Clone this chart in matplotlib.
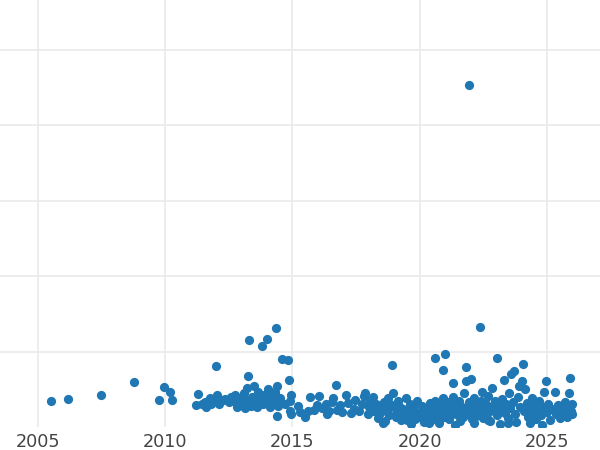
import matplotlib
matplotlib.use("Agg")
import matplotlib.pyplot as plt

years = [
    2005.51, 2006.18, 2007.48, 2008.77, 2009.75, 2009.95, 2010.19, 2010.27,
    2011.2, 2011.3, 2011.45, 2011.55, 2011.6, 2011.75, 2011.8, 2011.9, 2012.0, 2012.05,
    2012.1, 2012.25, 2012.35, 2012.5, 2012.6, 2012.7, 2012.75, 2012.8, 2012.9, 2013.0,
    2013.05, 2013.1, 2013.15, 2013.2, 2013.25, 2013.29, 2013.3, 2013.35, 2013.4, 2013.5,
    2013.55, 2013.6, 2013.65, 2013.7, 2013.8, 2013.85, 2013.9, 2014.0, 2014.0, 2014.05,
    2014.1, 2014.15, 2014.25, 2014.3, 2014.35, 2014.38, 2014.4, 2014.45, 2014.5, 2014.59,
    2014.7, 2014.82, 2014.85, 2014.9, 2014.95, 2014.9, 2014.95,
    2015.2, 2015.3, 2015.5, 2015.6, 2015.7, 2015.85, 2015.95, 2016.05, 2016.15, 2016.3,
    2016.35, 2016.45, 2016.55, 2016.6, 2016.7, 2016.75, 2016.85, 2016.95, 2017.1, 2017.2,
    2017.3, 2017.4, 2017.45, 2017.6, 2017.75, 2017.8, 2017.85, 2017.95, 2018.0, 2018.05,
    2018.15, 2018.2, 2018.3, 2018.35, 2018.45, 2018.5, 2018.6, 2018.65, 2018.7, 2018.75,
    2018.8, 2018.85, 2018.91, 2018.95, 2019.0, 2019.05, 2019.1, 2019.15, 2019.2, 2019.3,
    2019.35, 2019.45, 2019.5, 2019.55, 2019.6, 2019.7, 2019.75, 2019.85, 2019.9, 2019.95,
    2020.05, 2020.1, 2020.2, 2020.3, 2020.4, 2020.45, 2020.5, 2020.55, 2020.6, 2020.6,
    2020.65, 2020.7, 2020.75, 2020.8, 2020.85, 2020.9, 2020.9, 2020.95, 2021.0, 2021.0,
    2021.05, 2021.1, 2021.15, 2021.2, 2021.25, 2021.3, 2021.3, 2021.35, 2021.4, 2021.45,
    2021.5, 2021.55, 2021.6, 2021.65, 2021.7, 2021.75, 2021.8, 2021.8, 2021.85, 2021.9,
    2021.94, 2021.95, 2022.0, 2022.0, 2022.05, 2022.1, 2022.15, 2022.2, 2022.25, 2022.3,
    2022.37, 2022.4, 2022.45, 2022.5, 2022.55, 2022.6, 2022.65, 2022.7, 2022.75, 2022.8,
    2022.85, 2022.9, 2022.95, 2023.04, 2023.05, 2023.1, 2023.15, 2023.2, 2023.25, 2023.3,
    2023.35, 2023.4, 2023.45, 2023.5, 2023.55, 2023.6, 2023.65, 2023.7, 2023.75, 2023.8,
    2023.85, 2023.9, 2023.95, 2024.0, 2024.06, 2024.1, 2024.15, 2024.2, 2024.25, 2024.3,
    2024.35, 2024.4, 2024.45, 2024.5, 2024.55, 2024.6, 2024.7, 2024.75, 2024.8, 2024.85,
    2024.9, 2024.96, 2025.0, 2025.05, 2025.1, 2025.2, 2025.3, 2025.35, 2025.45, 2025.5,
    2025.6, 2025.7, 2025.75, 2025.8, 2025.85, 2025.9, 2025.95, 2026.0, 2026.0,
    2018.55, 2019.25, 2019.65, 2019.8, 2020.15, 2020.35, 2021.58, 2022.12, 2022.68, 2023.48,
]

values = [
    0.345, 0.37, 0.43, 0.60, 0.36, 0.53, 0.47, 0.36,
    0.29, 0.44, 0.30, 0.33, 0.27, 0.38, 0.30, 0.34, 0.81, 0.42,
    0.31, 0.36, 0.37, 0.33, 0.40, 0.35, 0.43, 0.27, 0.38, 0.30,
    0.41, 0.45, 0.25, 0.52, 0.68, 1.16, 0.35, 0.28, 0.40, 0.55,
    0.33, 0.26, 0.47, 0.38, 1.08, 0.30, 0.43, 1.17, 0.36, 0.50,
    0.27, 0.40, 0.33, 0.46, 1.32, 0.55, 0.15, 0.28, 0.38, 0.90,
    0.30, 0.89, 0.62, 0.35, 0.43, 0.22, 0.18,
    0.28, 0.20, 0.14, 0.22, 0.40, 0.23, 0.29, 0.41, 0.25, 0.30,
    0.18, 0.22, 0.33, 0.38, 0.56, 0.23, 0.29, 0.20, 0.42, 0.32,
    0.19, 0.24, 0.36, 0.21, 0.31, 0.41, 0.45, 0.17, 0.27, 0.35,
    0.40, 0.22, 0.30, 0.12, 0.19, 0.26, 0.33, 0.08, 0.22, 0.38,
    0.16, 0.30, 0.82, 0.45, 0.26, 0.13, 0.20, 0.34, 0.28, 0.17,
    0.24, 0.38, 0.10, 0.22, 0.31, 0.16, 0.27, 0.20, 0.35, 0.13,
    0.18, 0.28, 0.14, 0.23, 0.32, 0.10, 0.20, 0.27, 0.92, 0.35,
    0.15, 0.24, 0.05, 0.30, 0.19, 0.76, 0.38, 0.13, 0.97, 0.26,
    0.22, 0.33, 0.11, 0.29, 0.18, 0.58, 0.40, 0.24, 0.03, 0.31,
    0.16, 0.35, 0.21, 0.27, 0.13, 0.45, 0.80, 0.61, 0.25, 0.18,
    4.54, 0.33, 0.64, 0.22, 0.11, 0.29, 0.38, 0.15, 0.26, 0.20,
    1.33, 0.34, 0.47, 0.12, 0.24, 0.30, 0.18, 0.41, 0.08, 0.27,
    0.52, 0.21, 0.35, 0.92, 0.16, 0.28, 0.04, 0.23, 0.37, 0.62,
    0.19, 0.30, 0.12, 0.45, 0.25, 0.70, 0.33, 0.74, 0.17, 0.07,
    0.40, 0.55, 0.27, 0.61, 0.84, 0.21, 0.50, 0.32, 0.14, 0.24,
    0.05, 0.38, 0.19, 0.28, 0.11, 0.22, 0.35, 0.16, 0.03, 0.26,
    0.47, 0.61, 0.20, 0.31, 0.09, 0.24, 0.47, 0.17, 0.29, 0.12,
    0.21, 0.33, 0.26, 0.14, 0.45, 0.65, 0.22, 0.30, 0.18,
    0.06, 0.09, 0.04, 0.11, 0.07, 0.05, 0.08, 0.06, 0.10, 0.05,
]

x_ticks = [2005, 2010, 2015, 2020, 2025]
x_tick_labels = ["2005", "2010", "2015", "2020", "2025"]
y_grid = [1, 2, 3, 4, 5]

fig = plt.figure(figsize=(6, 4.5), dpi=100)
ax = fig.add_axes([0, 0.0509, 1, 0.9491])
ax.scatter(years, values, s=44, color="#1f77b4", linewidths=0, zorder=3)
ax.set_xlim(2003.507, 2027.083)
ax.set_ylim(0, 5.664)
ax.set_xticks(x_ticks)
ax.set_xticklabels(x_tick_labels)
ax.set_yticks(y_grid)
ax.set_yticklabels([])
ax.grid(True, color="#e8e8e8", linewidth=1.1)
ax.set_axisbelow(True)
ax.tick_params(axis="both", length=0, colors="#444444", labelsize=12.7, pad=4)
for s in ax.spines.values():
    s.set_visible(False)
fig.savefig("out.png", dpi=100)
